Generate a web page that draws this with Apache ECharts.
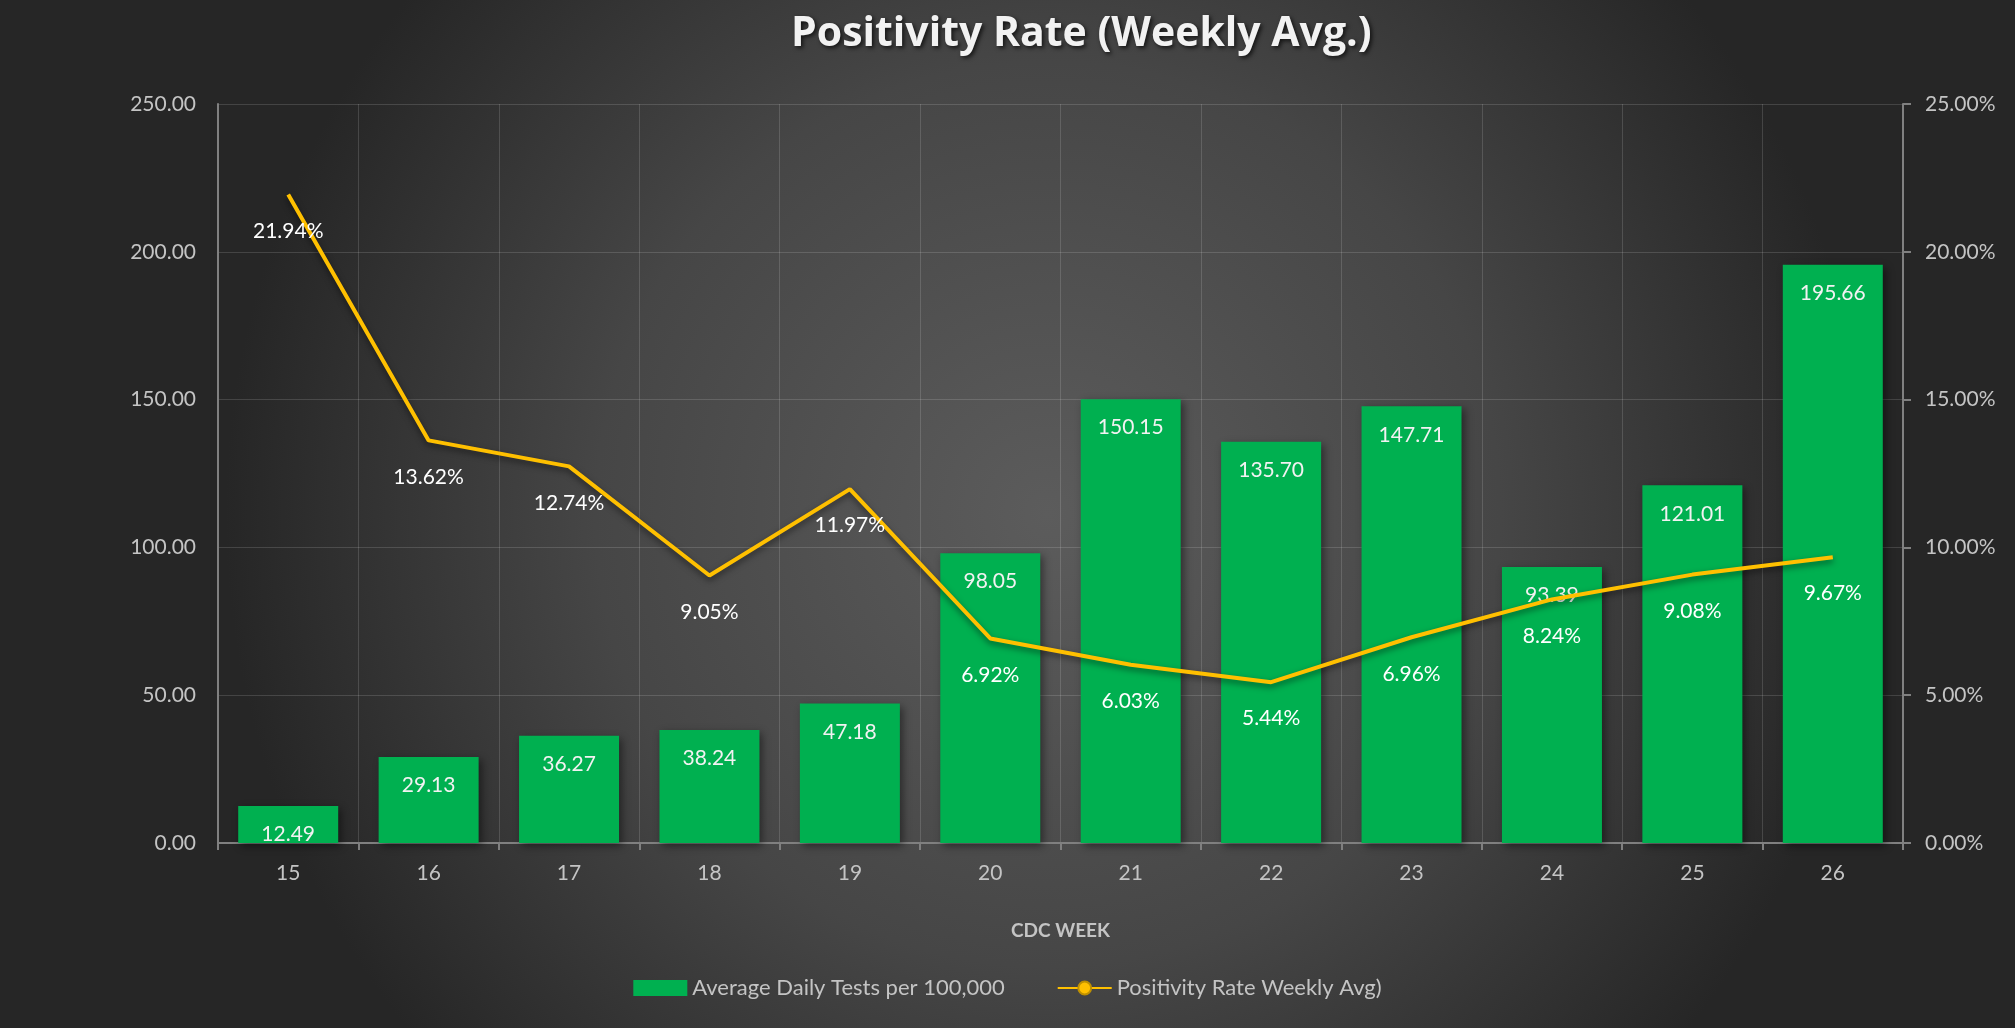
<!DOCTYPE html>
<html>
<head>
<meta charset="utf-8">
<script src="https://cdn.jsdelivr.net/npm/echarts@6/dist/echarts.min.js"></script>
<style>
  html, body { margin: 0; padding: 0; background: #2a2a2a; }
  #chart { width: 2015px; height: 1028px; }
</style>
</head>
<body>
<div id="chart"></div>
<script>
// CDC weeks
var weeks = ['15', '16', '17', '18', '19', '20', '21', '22', '23', '24', '25', '26'];
// Average Daily Tests per 100,000
var dailyTests = [12.49, 29.13, 36.27, 38.24, 47.18, 98.05, 150.15, 135.70, 147.71, 93.39, 121.01, 195.66];
// Positivity rate weekly average (%)
var positivity = [21.94, 13.62, 12.74, 9.05, 11.97, 6.92, 6.03, 5.44, 6.96, 8.24, 9.08, 9.67];

var axisGray = '#c4c4c4';
var lineGray = '#808080';
var gridColor = 'rgba(255,255,255,0.14)';

var chart = echarts.init(document.getElementById('chart'));

var option = {
    backgroundColor: {
        type: 'radial', x: 0.52, y: 0.5, r: 0.8,
        colorStops: [
            { offset: 0, color: '#5c5c5c' },
            { offset: 0.55, color: '#464646' },
            { offset: 1, color: '#262626' }
        ]
    },
    textStyle: { fontFamily: 'Lato' },
    title: {
        text: 'Positivity Rate (Weekly Avg.)',
        left: 786,
        top: 9,
        textStyle: {
            color: '#f2f2f2',
            fontSize: 41,
            fontWeight: 'bold',
            fontFamily: 'Open Sans',
            textShadowColor: 'rgba(0,0,0,0.7)',
            textShadowBlur: 4,
            textShadowOffsetX: 2,
            textShadowOffsetY: 2
        }
    },
    legend: {
        bottom: 24,
        left: 'center',
        itemWidth: 54,
        itemHeight: 16,
        itemGap: 52,
        textStyle: { color: axisGray, fontSize: 22, fontFamily: 'Lato' },
        data: [
            { name: 'Average Daily Tests per 100,000', icon: 'rect' },
            { name: 'Positivity Rate Weekly Avg)' }
        ]
    },
    grid: { left: 218, right: 112, top: 104, bottom: 185 },
    xAxis: [{
        type: 'category',
        data: weeks,
        name: 'CDC WEEK',
        nameLocation: 'middle',
        nameGap: 78,
        nameTextStyle: { color: axisGray, fontSize: 19, fontWeight: 'bold' },
        axisLine: { lineStyle: { color: lineGray, width: 2 } },
        axisTick: { show: true, length: 7, lineStyle: { color: lineGray, width: 2 } },
        axisLabel: { color: axisGray, fontSize: 21, margin: 20 },
        splitLine: { show: true, interval: 0, lineStyle: { color: gridColor, width: 1 } }
    }, {
        // small inner ticks at the category centres
        type: 'category',
        data: weeks,
        position: 'bottom',
        axisLine: { show: false },
        axisTick: { show: true, inside: true, alignWithLabel: true, length: 5,
                    lineStyle: { color: lineGray, width: 2 } },
        axisLabel: { show: false },
        splitLine: { show: false }
    }],
    yAxis: [{
        type: 'value',
        min: 0, max: 250, interval: 50,
        axisLine: { show: true, lineStyle: { color: lineGray, width: 2 } },
        axisTick: { show: false },
        axisLabel: {
            color: axisGray, fontSize: 21, margin: 22,
            formatter: function(v) { return v.toFixed(2); }
        },
        splitLine: { lineStyle: { color: gridColor, width: 1 } }
    }, {
        type: 'value',
        min: 0, max: 25, interval: 5,
        axisLine: { show: true, lineStyle: { color: lineGray, width: 2 } },
        axisTick: { show: true, length: 8, lineStyle: { color: lineGray, width: 2 } },
        axisLabel: {
            color: axisGray, fontSize: 21, margin: 22,
            formatter: function(v) { return v.toFixed(2) + '%'; }
        },
        splitLine: { show: false }
    }],
    series: [{
        name: 'Average Daily Tests per 100,000',
        type: 'bar',
        barWidth: 100,
        data: dailyTests,
        itemStyle: {
            color: '#00b050',
            shadowColor: 'rgba(0,0,0,0.45)',
            shadowBlur: 8,
            shadowOffsetX: 3,
            shadowOffsetY: 3
        },
        label: {
            show: true,
            position: 'insideTop',
            distance: 18,
            color: '#f2f2f2',
            fontSize: 21,
            formatter: function(p) { return p.value.toFixed(2); }
        }
    }, {
        name: 'Positivity Rate Weekly Avg)',
        type: 'line',
        yAxisIndex: 1,
        data: positivity,
        symbol: 'circle',
        symbolSize: 0,
        showSymbol: true,
        lineStyle: {
            color: '#ffc000',
            width: 4,
            shadowColor: 'rgba(0,0,0,0.5)',
            shadowBlur: 6,
            shadowOffsetY: 3
        },
        itemStyle: { color: '#ffc000', borderColor: '#bf9000', borderWidth: 2 },
        label: {
            show: true,
            position: 'bottom',
            distance: 26,
            color: '#ffffff',
            fontSize: 21,
            formatter: function(p) { return p.value.toFixed(2) + '%'; }
        },
        z: 3
    }]
};

chart.setOption(option);
</script>
</body>
</html>
